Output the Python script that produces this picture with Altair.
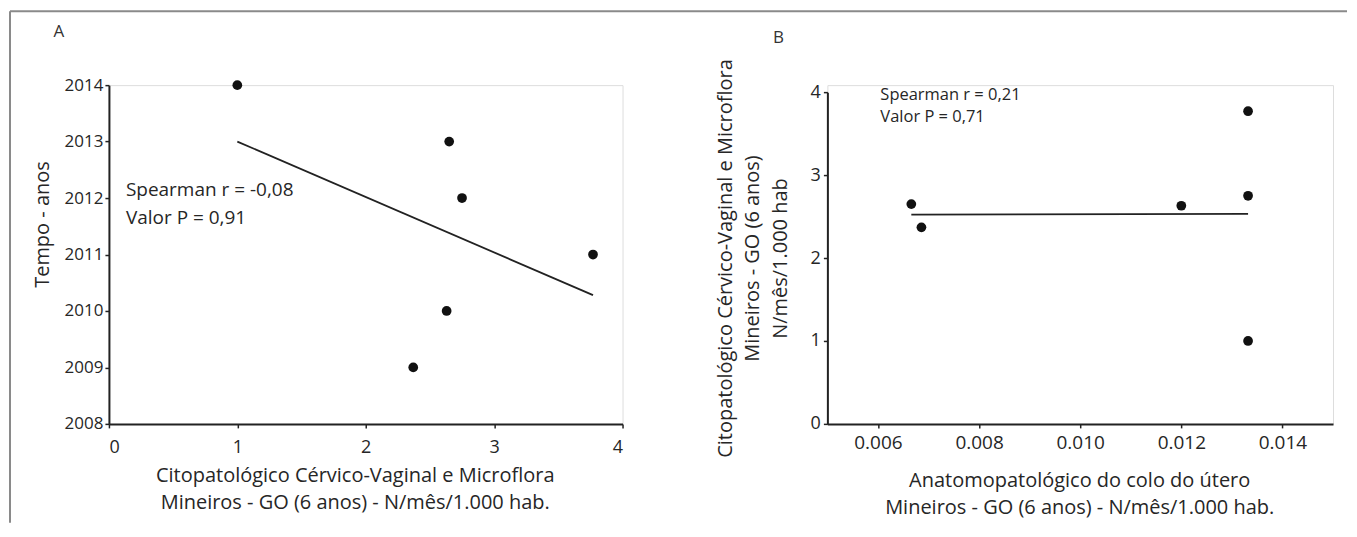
import altair as alt
import pandas as pd

# ---------------- data ----------------
# Panel A: x = Citopatológico (N/mês/1.000 hab.), y = year
a_x = [1.0, 2.65, 2.75, 3.77, 2.63, 2.37]
a_year = [2014, 2013, 2012, 2011, 2010, 2009]
a_xticks = [0, 1, 2, 3, 4]
a_yticks = [2008, 2008.5, 2009, 2009.5, 2010, 2010.5, 2011, 2011.5,
            2012, 2012.5, 2013, 2013.5, 2014]
a_stats = ["Spearman r = -0,08", "Valor P = 0,91"]
a_xtitle = ["Citopatológico Cérvico-Vaginal e Microflora",
            "Mineiros - GO (6 anos) - N/mês/1.000 hab."]
a_ytitle = "Tempo - anos"

# Panel B: x = Anatomopatológico, y = Citopatológico
b_x = [0.00666, 0.00686, 0.0120, 0.01332, 0.01332, 0.01332]
b_y = [2.65, 2.37, 2.63, 3.77, 2.75, 1.0]
b_xticks = [0.006, 0.008, 0.010, 0.012, 0.014]
b_yticks = [0, 0.5, 1, 1.5, 2, 2.5, 3, 3.5, 4]
b_stats = ["Spearman r = 0,21", "Valor P = 0,71"]
b_xtitle = ["Anatomopatológico do colo do útero",
            "Mineiros - GO (6 anos) - N/mês/1.000 hab."]
b_ytitle = ["Citopatológico Cérvico-Vaginal e Microflora",
            "Mineiros - GO (6 anos)",
            "N/mês/1.000 hab"]

FONT = "Open Sans"
TXT = "#262626"
AX = "#222222"
FRAME = "#8a8a8a"

dfA = pd.DataFrame({"x": a_x, "y": a_year})
dfB = pd.DataFrame({"x": b_x, "y": b_y})
one = pd.DataFrame({"k": [0]})

axis_common = dict(
    grid=False, domainColor=AX, domainWidth=2, tickColor=AX, tickWidth=1.5,
    tickSize=4, labelFont=FONT, labelColor=TXT, titleFont=FONT,
    titleColor=TXT, titleFontWeight="normal", titleFontSize=20,
)

H = 339  # common plot-area height (panel B uses only the lower part)

# ---------------- panel A ----------------
xA = alt.X("x:Q", scale=alt.Scale(domain=[0, 4], nice=False, zero=False),
           axis=alt.Axis(values=a_xticks, format="d", labelFontSize=18,
                         labelPadding=11, title=a_xtitle, titleLineHeight=27,
                         titleX=246, titleY=58, titleAlign="center",
                         titleBaseline="alphabetic", **axis_common))
yA = alt.Y("y:Q", scale=alt.Scale(domain=[2008, 2014], nice=False, zero=False),
           axis=alt.Axis(values=a_yticks, format="d", labelFontSize=17,
                         labelPadding=2,
                         labelExpr="datum.value % 1 == 0 ? datum.label : ''",
                         title=a_ytitle, titleAngle=270, titleX=-66, titleY=139,
                         titleAlign="center", titleBaseline="middle",
                         **axis_common))

ptsA = alt.Chart(dfA).mark_circle(size=95, color="#111111", opacity=1).encode(x=xA, y=yA)
fitA = alt.Chart(dfA).transform_regression("x", "y").mark_line(
    color="#222222", strokeWidth=1.8).encode(x=xA, y=yA)
statA = alt.Chart(one).mark_text(text=a_stats, font=FONT, fontSize=19, color=TXT,
                                 align="left", baseline="alphabetic",
                                 lineHeight=28).encode(x=alt.value(17), y=alt.value(111))
letterA = alt.Chart(one).mark_text(text="A", font=FONT, fontSize=17, color="#333333",
                                   align="center", baseline="middle").encode(
    x=alt.value(-50), y=alt.value(-53))
# figure frame (top edge across both panels, left edge)
frame_top = alt.Chart(one).mark_rule(color=FRAME, strokeWidth=2).encode(
    x=alt.value(-99), x2=alt.value(1239), y=alt.value(-74))
frame_left = alt.Chart(one).mark_rule(color=FRAME, strokeWidth=2).encode(
    x=alt.value(-99), y=alt.value(-74), y2=alt.value(438))

panelA = alt.layer(frame_top, frame_left, fitA, ptsA, statA, letterA).properties(
    width=514, height=H)

# ---------------- panel B ----------------
xB = alt.X("x:Q", scale=alt.Scale(domain=[0.005, 0.015], nice=False, zero=False),
           axis=alt.Axis(values=b_xticks, format=".3f", labelFontSize=19,
                         labelPadding=6, title=b_xtitle, titleLineHeight=27,
                         titleX=252, titleY=63, titleAlign="center",
                         titleBaseline="alphabetic", **axis_common))
yB = alt.Y("y:Q", scale=alt.Scale(domain=[0, 4], range=[H, 7], nice=False, zero=False),
           axis=alt.Axis(values=b_yticks, format="d", labelFontSize=18,
                         labelPadding=3,
                         labelExpr="datum.value % 1 == 0 ? datum.label : ''",
                         title=b_ytitle, titleLineHeight=27.5, titleAngle=270,
                         titleX=-112, titleY=173, titleAlign="center",
                         titleBaseline="top", **axis_common))

ptsB = alt.Chart(dfB).mark_circle(size=95, color="#111111", opacity=1).encode(x=xB, y=yB)
fitB = alt.Chart(dfB).transform_regression("x", "y").mark_line(
    color="#222222", strokeWidth=1.8).encode(x=xB, y=yB)
statB = alt.Chart(one).mark_text(text=b_stats, font=FONT, fontSize=16.5, color=TXT,
                                 align="left", baseline="alphabetic",
                                 lineHeight=21.5).encode(x=alt.value(53), y=alt.value(15))
letterB = alt.Chart(one).mark_text(text="B", font=FONT, fontSize=17, color="#333333",
                                   align="center", baseline="middle").encode(
    x=alt.value(-49), y=alt.value(-47))

panelB = alt.layer(fitB, ptsB, statB, letterB).properties(width=506, height=H)

chart = alt.hconcat(panelA, panelB, spacing=205, bounds="flush").properties(
    padding={"left": 0, "top": 1, "right": 0, "bottom": 0}
).configure_view(stroke=None).configure(background="white")

chart.save("out.html", embed_options={"renderer": "svg", "actions": False})
